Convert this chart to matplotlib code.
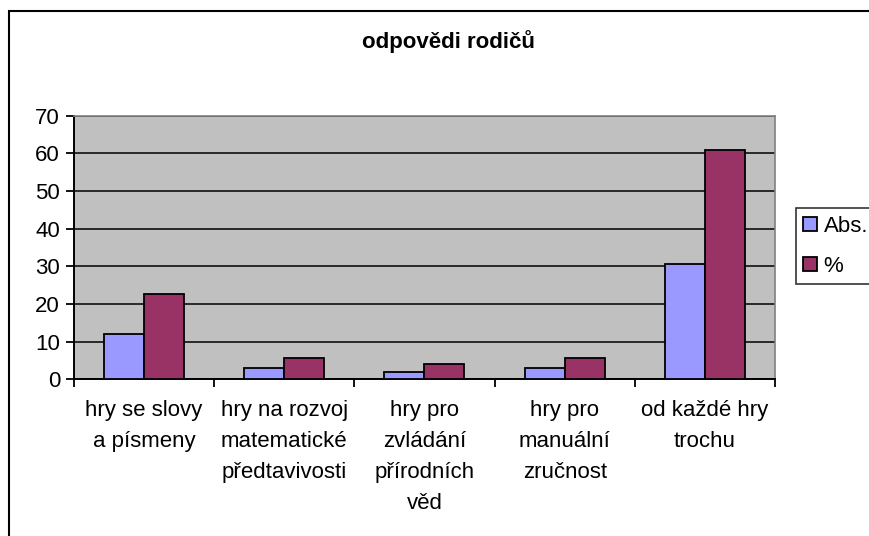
import matplotlib
matplotlib.use("Agg")
import matplotlib.pyplot as plt
import matplotlib.patches as mpatches
import numpy as np

categories = ["hry se slovy\na písmeny", "hry na rozvoj\nmatematické\npředtavivosti",
              "hry pro\nzvládání\npřírodních\nvěd", "hry pro\nmanuální\nzručnost",
              "od každé hry\ntrochu"]
abs_vals = [12, 3, 2, 3, 30.6]
pct_vals = [22.6, 5.7, 4.0, 5.6, 61]
series_names = ["Abs.", "%"]
yticks = [0, 10, 20, 30, 40, 50, 60, 70]
title = "odpovědi rodičů"

plt.rcParams['font.family'] = ['Liberation Sans', 'DejaVu Sans']
FS = 16

fig = plt.figure(figsize=(8.7, 5.36), dpi=100)
W, H = 870, 536
ax = fig.add_axes([74 / W, 1 - 379.3 / H, (775 - 74) / W, (379.3 - 115.7) / H])
ax.set_facecolor("#C0C0C0")

x = np.arange(len(categories))
bw = 40 / 140.2
ax.bar(x - bw / 2, abs_vals, bw, color="#9999FF", edgecolor="black", linewidth=1.3,
       label=series_names[0], zorder=3)
ax.bar(x + bw / 2, pct_vals, bw, color="#993366", edgecolor="black", linewidth=1.3,
       label=series_names[1], zorder=3)

ax.set_xlim(-0.5, len(categories) - 0.5)
ax.set_ylim(0, 70)
ax.set_yticks(yticks)
ax.set_yticklabels([str(v) for v in yticks], fontsize=FS)
ax.yaxis.grid(True, color="black", linewidth=1.1, zorder=1)
ax.set_axisbelow(True)

ax.set_xticks(x)
ax.set_xticklabels(categories, fontsize=FS, linespacing=1.62, va="top")
ax.set_xticks(np.arange(-0.5, len(categories)), minor=True)
ax.tick_params(axis="x", which="major", length=0, pad=15)
ax.tick_params(axis="x", which="minor", length=6, width=1.3, direction="out", color="black")
ax.tick_params(axis="y", length=6, width=1.3, direction="out", color="black", pad=4)

for side in ["top", "right"]:
    ax.spines[side].set_color("#808080")
    ax.spines[side].set_linewidth(1.2)
for side in ["left", "bottom"]:
    ax.spines[side].set_color("black")
    ax.spines[side].set_linewidth(1.4)

fig.text(448 / W, 1 - 42 / H, title, fontsize=FS, fontweight="bold",
         ha="center", va="center")

leg = fig.legend(loc="upper left", bbox_to_anchor=(795.7 / W, 1 - 208 / H),
                 fontsize=FS, frameon=True, fancybox=False, edgecolor="black",
                 handlelength=0.6, handleheight=0.6, handletextpad=0.3,
                 borderpad=0.35, labelspacing=0.85, borderaxespad=0)
leg.get_frame().set_linewidth(1.2)

border = mpatches.Rectangle((9 / W, -0.1), 2, (1 - 11 / H) + 0.1, fill=False,
                            transform=fig.transFigure, linewidth=1.5, edgecolor="black")
fig.patches.append(border)

fig.savefig("out.png", dpi=100)
